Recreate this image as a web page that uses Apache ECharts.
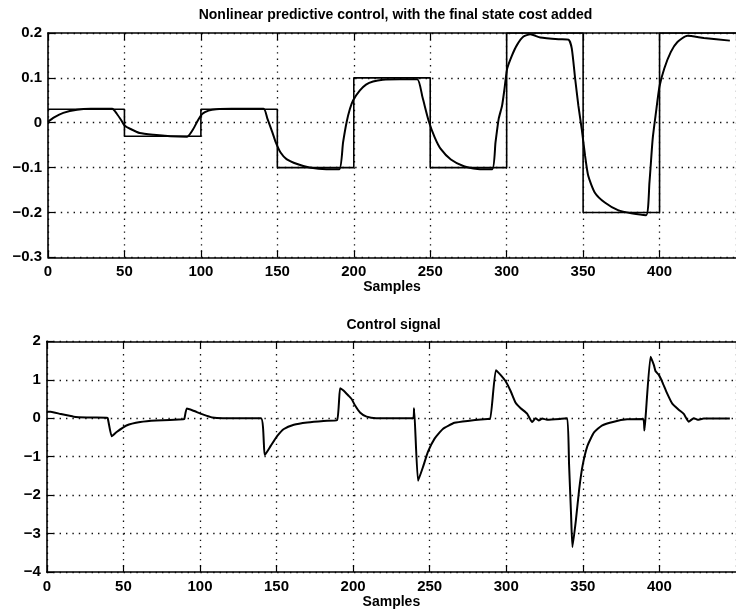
<!DOCTYPE html>
<html>
<head>
<meta charset="utf-8">
<script src="https://cdn.jsdelivr.net/npm/echarts@6/dist/echarts.min.js"></script>
<style>
html,body{margin:0;padding:0;background:#fff;}
#chart{width:736px;height:616px;}
</style>
</head>
<body>
<div id="chart"></div>
<script>
// ---- data ----
const topTitle = 'Nonlinear predictive control, with the final state cost added';
const bottomTitle = 'Control signal';
const xName = 'Samples';

const xTicks = [0, 50, 100, 150, 200, 250, 300, 350, 400];
const topYTicks = [-0.3, -0.2, -0.1, 0, 0.1, 0.2];
const bottomYTicks = [-4, -3, -2, -1, 0, 1, 2];

// reference (setpoint) signal, piecewise constant
const refX = [0, 50, 100, 150, 200, 250, 300, 350, 400, 450];
const refY = [0.03, -0.03, 0.03, -0.1, 0.1, -0.1, 0.2, -0.2, 0.2, 0.2];

// process output
const respX = [0, 4, 10, 19, 28, 42, 45, 48, 50, 54, 60, 69, 80, 91,
  95, 98, 101, 105, 110, 120, 141, 143.5, 146.7, 149, 152, 156, 163, 171, 182, 190.5,
  193, 195.3, 197.5, 199.6, 204, 208, 212.6, 219, 230, 241.5,
  245, 249, 253, 257, 263.5, 272, 281, 290.5,
  292.7, 294.8, 297, 298.6, 300.3, 303.5, 306.7, 311, 315.4, 322, 334, 340.5,
  342.6, 344.8, 346.9, 349.1, 351.3, 353.4, 357.7, 364.2, 372.8, 381.5, 391.2,
  393.4, 395.5, 397.7, 399.9, 403.1, 407.4, 411.7, 418.2, 429, 446];
const respY = [0.002, 0.012, 0.022, 0.029, 0.031, 0.031, 0.02, 0.005, -0.006, -0.014, -0.023, -0.027, -0.03, -0.031,
  -0.014, 0.005, 0.02, 0.027, 0.03, 0.031, 0.031, 0.009, -0.021, -0.044, -0.066, -0.081, -0.092, -0.1, -0.104, -0.104,
  -0.044, 0.001, 0.031, 0.05, 0.072, 0.085, 0.092, 0.096, 0.097, 0.097,
  0.056, 0.004, -0.033, -0.059, -0.082, -0.097, -0.103, -0.104,
  -0.044, 0.009, 0.038, 0.076, 0.12, 0.15, 0.173, 0.192, 0.197, 0.19, 0.186, 0.185,
  0.165, 0.098, 0.038, -0.014, -0.074, -0.119, -0.156, -0.178, -0.195, -0.202, -0.206,
  -0.133, -0.036, 0.024, 0.08, 0.121, 0.158, 0.18, 0.194, 0.189, 0.183];

// control signal
const ctrlX = [0, 2.5, 9, 17.6, 26, 39, 39.8, 42.4, 45.6, 52, 61, 71.5, 89, 89.8, 91.4, 95.3, 101.8, 108, 115,
  139.8, 142.3, 146.2, 150.5, 154.8, 161.3, 170, 180.7, 189.5, 191.5, 193.7, 196.9, 199, 201.3, 204.5, 208.8, 215,
  239.2, 239.8, 242.4, 245.7, 248.9, 253.2, 258.6, 266.2, 274.8, 287.8, 289.5,
  293.2, 296.4, 299.6, 302.9, 306.1, 309.4, 313.6, 316.9, 319.1, 321.2, 323.5, 326.6, 335,
  339.8, 341, 342.3, 343.2, 345.5, 347.6, 349.8, 353, 357.3, 362.4, 370.3, 378.9, 389.4,
  390.2, 391, 394.2, 396.4, 397.5, 399.7, 401.9, 405.1, 408.4, 412.6, 415.9, 419.1, 422.4, 425, 428.9, 446];
const ctrlY = [0.17, 0.17, 0.11, 0.04, 0.02, 0.01, 0.0, -0.47, -0.36, -0.19, -0.1, -0.06, -0.03, -0.02, 0.25, 0.2, 0.1, 0.02, 0.0,
  0.0, -0.96, -0.72, -0.46, -0.28, -0.17, -0.11, -0.07, -0.05, 0.78, 0.72, 0.59, 0.5, 0.33, 0.15, 0.04, 0.0,
  0.0, 0.26, -1.63, -1.26, -0.87, -0.53, -0.28, -0.12, -0.07, -0.02, -0.02,
  1.25, 1.12, 0.96, 0.7, 0.4, 0.26, 0.12, -0.1, 0.0, -0.06, -0.01, -0.04, -0.02,
  0.0, -1.2, -2.5, -3.35, -2.64, -1.85, -1.24, -0.72, -0.37, -0.19, -0.09, -0.03, -0.02,
  -0.32, 0.05, 1.6, 1.38, 1.22, 1.12, 0.94, 0.64, 0.38, 0.22, 0.11, -0.09, 0.0, -0.04, -0.01, -0.01];

// ---- chart ----
const FONT = '"Liberation Sans", Arial, Helvetica, sans-serif';
const pair = (xs, ys) => xs.map((x, i) => [x, ys[i]]);
const fmtNum = v => String(+v.toFixed(4)).replace('-', '\u2212');

const axisLine = { show: true, onZero: false, lineStyle: { color: '#000', width: 1.6 } };
const axisTick = { show: true, inside: true, length: 7, lineStyle: { color: '#000', width: 1.2 } };
const dotted = { show: true, lineStyle: { color: '#111', width: 1.3, type: [1.4, 5] } };
const labelStyle = { color: '#000', fontSize: 15, fontWeight: 'bold', fontFamily: FONT };

function xAx(grid, bottom) {
  return {
    gridIndex: grid, type: 'value', min: 0, max: 450, interval: 50,
    position: bottom ? 'bottom' : 'top',
    axisLine, axisTick,
    axisLabel: bottom ? Object.assign({ margin: 7, showMaxLabel: false, formatter: fmtNum }, labelStyle) : { show: false },
    splitLine: bottom ? dotted : { show: false },
    name: bottom ? xName : '',
    nameLocation: 'middle', nameGap: 23,
    nameTextStyle: { color: '#000', fontSize: 14, fontWeight: 'bold', fontFamily: FONT }
  };
}
function yAx(grid, min, max, interval) {
  return {
    gridIndex: grid, type: 'value', min, max, interval,
    axisLine, axisTick,
    axisLabel: Object.assign({ margin: 6, formatter: fmtNum }, labelStyle),
    splitLine: dotted
  };
}

const chart = echarts.init(document.getElementById('chart'), null, { renderer: 'canvas' });
chart.setOption({
  animation: false,
  backgroundColor: '#fff',
  grid: [
    { left: 48, top: 33, width: 694.3, height: 224.3 },
    { left: 46.8, top: 341.3, width: 695.2, height: 230.7 }
  ],
  xAxis: [xAx(0, true), xAx(0, false), xAx(1, true), xAx(1, false)],
  yAxis: [yAx(0, topYTicks[0], topYTicks[topYTicks.length - 1], 0.1),
          yAx(1, bottomYTicks[0], bottomYTicks[bottomYTicks.length - 1], 1)],
  graphic: [
    { type: 'text', x: 395.5, y: 8, style: { text: topTitle, fill: '#000', fontSize: 14, fontWeight: 'bold', fontFamily: FONT, textAlign: 'center' } },
    { type: 'text', x: 393.5, y: 318, style: { text: bottomTitle, fill: '#000', fontSize: 14, fontWeight: 'bold', fontFamily: FONT, textAlign: 'center' } }
  ],
  series: [
    { type: 'line', xAxisIndex: 0, yAxisIndex: 0, data: pair(refX, refY), step: 'end',
      symbol: 'none', lineStyle: { color: '#000', width: 1.6 } },
    { type: 'line', xAxisIndex: 0, yAxisIndex: 0, data: pair(respX, respY),
      smooth: 0.2,
      symbol: 'none', lineStyle: { color: '#000', width: 2 } },
    { type: 'line', xAxisIndex: 2, yAxisIndex: 1, data: pair(ctrlX, ctrlY),
      smooth: 0.15,
      symbol: 'none', lineStyle: { color: '#000', width: 2 } }
  ]
});
</script>
</body>
</html>
